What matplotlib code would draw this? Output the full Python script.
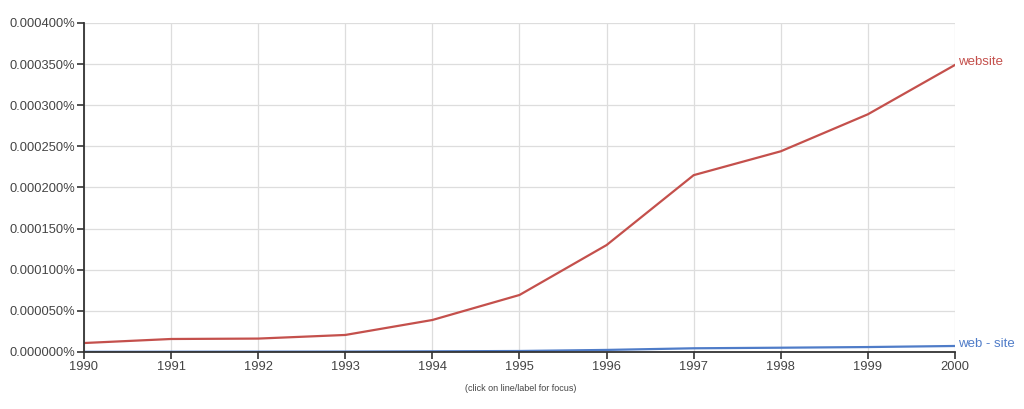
import matplotlib
matplotlib.use('Agg')
import matplotlib.pyplot as plt
from matplotlib.ticker import FuncFormatter

plt.rcParams['font.family'] = ['Liberation Sans', 'DejaVu Sans']

annees = [1990, 1991, 1992, 1993, 1994, 1995, 1996, 1997, 1998, 1999, 2000]
# valeurs en pourcentage
website = [0.0000109, 0.0000158, 0.0000163, 0.0000207, 0.0000389, 0.0000693,
           0.000130, 0.000215, 0.000244, 0.000289, 0.000349]
web_site = [0.0000002, 0.0000003, 0.0000004, 0.0000005, 0.0000008, 0.0000012,
            0.0000025, 0.0000045, 0.0000052, 0.0000060, 0.0000073]

rouge = '#c4504c'
bleu = '#4f7cc8'

fig = plt.figure(figsize=(10.24, 4.09), dpi=100)
ax = fig.add_axes([0.082, 0.1394, 0.8506, 0.8044])

ax.plot(annees, website, color=rouge, lw=1.6)
ax.plot(annees, web_site, color=bleu, lw=1.6)

ax.set_xlim(1990, 2000)
ax.set_ylim(0, 0.0004)
ax.set_xticks(annees)
ax.set_yticks([i * 0.00005 for i in range(9)])
ax.yaxis.set_major_formatter(FuncFormatter(lambda v, p: '%.6f%%' % v))

ax.grid(color='#dddddd', lw=0.9)
ax.set_axisbelow(True)
for cote in ['top', 'right']:
    ax.spines[cote].set_visible(False)
for cote in ['left', 'bottom']:
    ax.spines[cote].set_color('#333333')
    ax.spines[cote].set_linewidth(1.3)
ax.tick_params(axis='both', colors='#333333', labelcolor='#444444',
               labelsize=9.3, length=5, width=1.2, pad=1.5)

ax.text(2000.04, website[-1] + 0.000003, 'website', color=rouge, fontsize=9.5,
        va='center', ha='left', clip_on=False)
ax.text(2000.04, web_site[-1] + 0.000002, 'web - site', color=bleu, fontsize=9.5,
        va='center', ha='left', clip_on=False)

fig.text(0.508, 0.045, '(click on line/label for focus)', ha='center',
         fontsize=6.5, color='#444444')

fig.savefig('out.png')
